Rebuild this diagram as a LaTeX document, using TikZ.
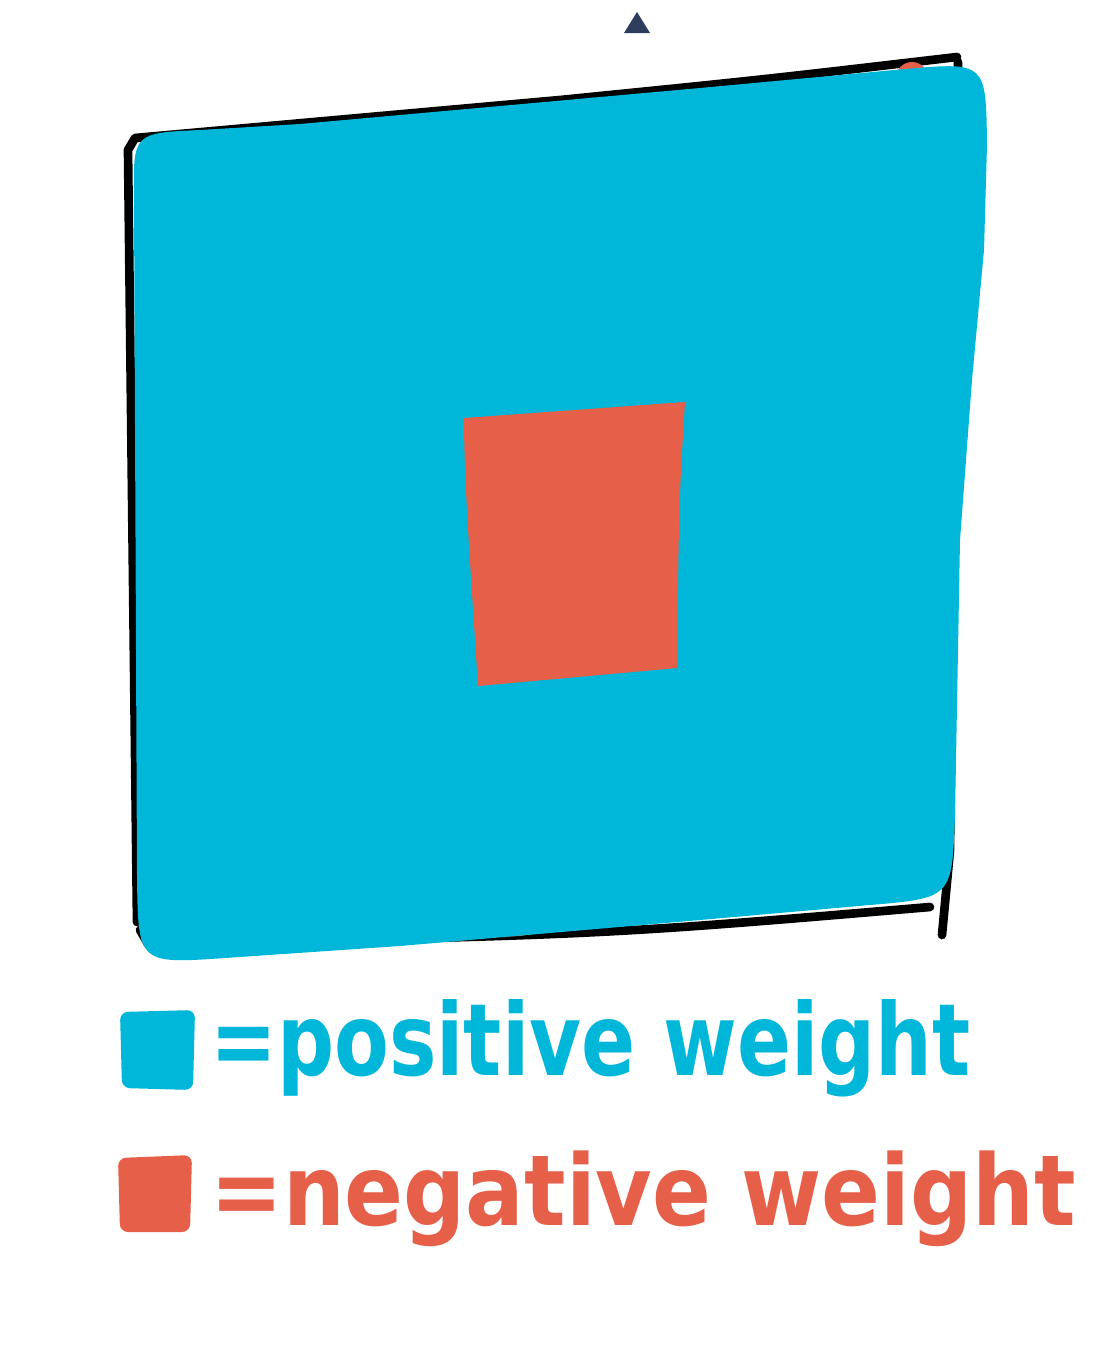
\documentclass[tikz,border=0pt]{standalone}
\usepackage{fontspec}
\setmainfont{DejaVu Sans}
\definecolor{posblue}{HTML}{00B7D9}
\definecolor{negred}{HTML}{E65F48}
\definecolor{navy}{HTML}{2E3D5E}
\tikzset{
  ink/.style={draw=black, line width=6.5pt, line cap=round, line join=round},
  legendtext/.style={anchor=base west, inner sep=0pt, font=\bfseries},
}
\begin{document}
\begin{tikzpicture}[x=0.75pt,y=-0.75pt]
\useasboundingbox (0,0) rectangle (1108,1368);
% small marker at top
\fill[navy] (637,12) -- (650,33) -- (624,33) -- cycle;
% black hand-drawn frame
\draw[ink] (137,922) -- (128,150) -- (135,138) -- (560,100) .. controls (760,80) .. (957,57);
\draw[ink] (958,62) -- (950,850) -- (942,935);
\draw[ink] (140,930) -- (148,944) .. controls (600,935) .. (930,907);
% red patches peeking out
\fill[negred] (912,78) circle (16);
\fill[negred] (150,938) circle (9);
\fill[negred] (480,938) -- (540,922) -- (560,930) -- (520,936) -- cycle;
% cyan filled area
\fill[posblue] (134,200) .. controls (133,133) .. (200,130) -- (300,124) -- (700,88) -- (905,69) .. controls (986,62) .. (987,145) -- (984,250) -- (972,380) -- (960,540) -- (955,815) .. controls (952,898) .. (870,905) -- (700,920) -- (400,946) -- (225,958) .. controls (138,964) .. (137,875) -- cycle;
% central red block
\fill[negred] (464,418) -- (685,402) .. controls (679,500) .. (677,668) -- (478,686) .. controls (470,560) and (464,480) .. cycle;
% legend
\fill[posblue, rounded corners=6pt] (120,1012) -- (195,1010) -- (193,1090) -- (122,1088) -- cycle;
\node[legendtext, text=posblue] (pos) at (210,1075) {\resizebox{570pt}{57pt}{=positive weight}};
\fill[negred, rounded corners=6pt] (118,1158) -- (192,1155) -- (190,1232) -- (120,1232) -- cycle;
\node[legendtext, text=negred] (neg) at (210,1225) {\resizebox{649pt}{56pt}{=negative weight}};
\end{tikzpicture}
\end{document}
